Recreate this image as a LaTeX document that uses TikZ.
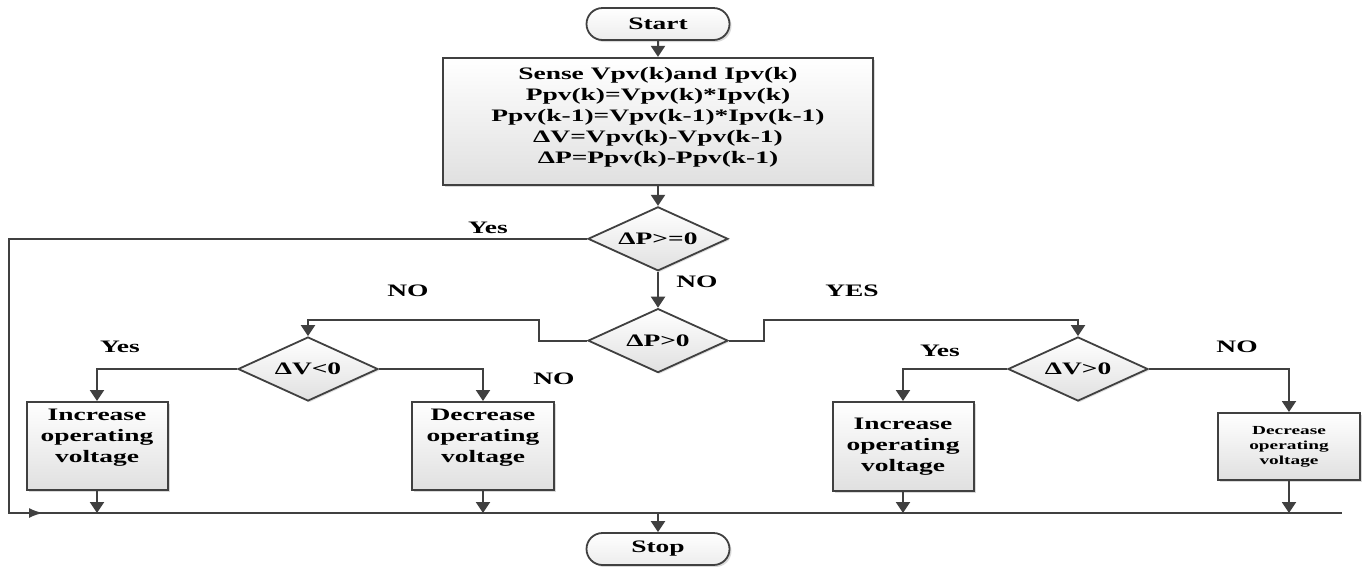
\documentclass[tikz,border=0pt]{standalone}
\usepackage{fontspec}
\newfontfamily\flowfont{Liberation Serif}[FakeStretch=1.57]
\usetikzlibrary{arrows.meta,positioning,shapes.geometric,shapes.misc,shadows}
\definecolor{FlowLine}{HTML}{404040}
\definecolor{FlowFill}{HTML}{E0E0E0}
\newcommand\flowbig{\flowfont\bfseries\fontsize{17.5}{21}\selectfont}
\newcommand\flowsmall{\flowfont\bfseries\fontsize{12.3}{15}\selectfont}
\tikzset{
  flow terminal/.style={
    rounded rectangle,
    draw=FlowLine,
    line width=1.8pt,
    top color=white,
    bottom color=FlowFill!60,
    minimum width=143pt,
    minimum height=32pt,
    inner sep=0pt,
    font=\flowbig,
    drop shadow={shadow xshift=2pt,shadow yshift=-2pt,opacity=0.3}
  },
  flow process/.style={
    rectangle,
    draw=FlowLine,
    line width=2pt,
    top color=white,
    bottom color=FlowFill,
    align=center,
    inner sep=3pt,
    font=\flowbig,
    drop shadow={shadow xshift=2pt,shadow yshift=-2pt,opacity=0.3}
  },
  flow decision/.style={
    diamond,
    aspect=2.2,
    draw=FlowLine,
    line width=1.8pt,
    top color=white,
    bottom color=FlowFill,
    minimum width=140pt,
    minimum height=64pt,
    inner sep=0pt,
    font=\flowbig,
    drop shadow={shadow xshift=1.5pt,shadow yshift=-1.5pt,opacity=0.25}
  },
  flow wire/.style={draw=FlowLine,line width=2pt},
  flow arrow/.style={flow wire,-{Triangle[length=11pt,width=14pt]}},
  flow entry/.style={flow wire,-{Latex[length=14pt,width=10pt]}},
  flow tag/.style={inner sep=1pt,font=\flowbig}
}

\begin{document}
\begin{tikzpicture}[x=1pt,y=-1pt]
  \useasboundingbox (0,0) rectangle (1364,566);

  \node[flow terminal] (start) at (658,24) {Start};
  \node[flow process,minimum width=430pt,minimum height=127pt,text depth=12pt,below=16pt of start] (sense)
    {Sense Vpv(k)and Ipv(k)\\Ppv(k)=Vpv(k)*Ipv(k)\\Ppv(k-1)=Vpv(k-1)*Ipv(k-1)\\ΔV=Vpv(k)-Vpv(k-1)\\ΔP=Ppv(k)-Ppv(k-1)};
  \node[flow decision,below=20pt of sense] (dpge) {ΔP>=0};
  \node[flow decision,below=36pt of dpge] (dpgt) {ΔP>0};
  \node[flow decision] (dvlt) at (308,369) {ΔV<0};
  \node[flow decision] (dvgt) at (1078,369) {ΔV>0};

  \node[flow process,minimum width=141pt,minimum height=88pt,text depth=20pt] (incl) at (97,446) {Increase\\operating\\voltage};
  \node[flow process,minimum width=142pt,minimum height=88pt,text depth=20pt] (decl) at (483,446) {Decrease\\operating\\voltage};
  \node[flow process,minimum width=141pt,minimum height=89pt] (incr) at (903,446.5) {Increase\\operating\\voltage};
  \node[flow process,minimum width=142pt,minimum height=67pt,font=\flowsmall] (decr) at (1289,446.5) {Decrease\\operating\\voltage};

  \node[flow terminal] (stop) at (658,549) {Stop};

  \coordinate (loop) at (9,513);
  \coordinate (busend) at (1342,513);

  % branch labels
  \node[flow tag] (yestop) at (488,228) {Yes};
  \node[flow tag] (notop) at (697,282) {NO};
  \node[flow tag] (noleft) at (408,291) {NO};
  \node[flow tag] (yesright) at (852,291) {YES};
  \node[flow tag] (yesinl) at (120,347) {Yes};
  \node[flow tag] (nodecl) at (554,379) {NO};
  \node[flow tag] (yesinr) at (940,351) {Yes};
  \node[flow tag] (nodecr) at (1237,347) {NO};

  % main chain
  \draw[flow arrow] (start) -- (sense);
  \draw[flow arrow] (sense) -- (dpge);
  \draw[flow arrow] (dpge) -- (dpgt);

  % return loop and collecting bus
  \draw[flow wire] (dpge.west) -| (loop) -- (busend);
  \draw[flow entry] (loop) -- ++(34,0);

  % second level branches
  \draw[flow arrow] (dpgt.west) -- ++(-48,0) -- ++(0,-21) -| (dvlt.north);
  \draw[flow arrow] (dpgt.east) -- ++(35,0) -- ++(0,-21) -| (dvgt.north);

  % voltage steps
  \draw[flow arrow] (dvlt.west) -| (incl.north);
  \draw[flow arrow] (dvlt.east) -| (decl.north);
  \draw[flow arrow] (dvgt.west) -| (incr.north);
  \draw[flow arrow] (dvgt.east) -| (decr.north);

  \draw[flow arrow] (incl) -- (incl |- loop);
  \draw[flow arrow] (decl) -- (decl |- loop);
  \draw[flow arrow] (incr) -- (incr |- loop);
  \draw[flow arrow] (decr) -- (decr |- loop);
  \draw[flow arrow] (stop |- loop) -- (stop);
\end{tikzpicture}
\end{document}
